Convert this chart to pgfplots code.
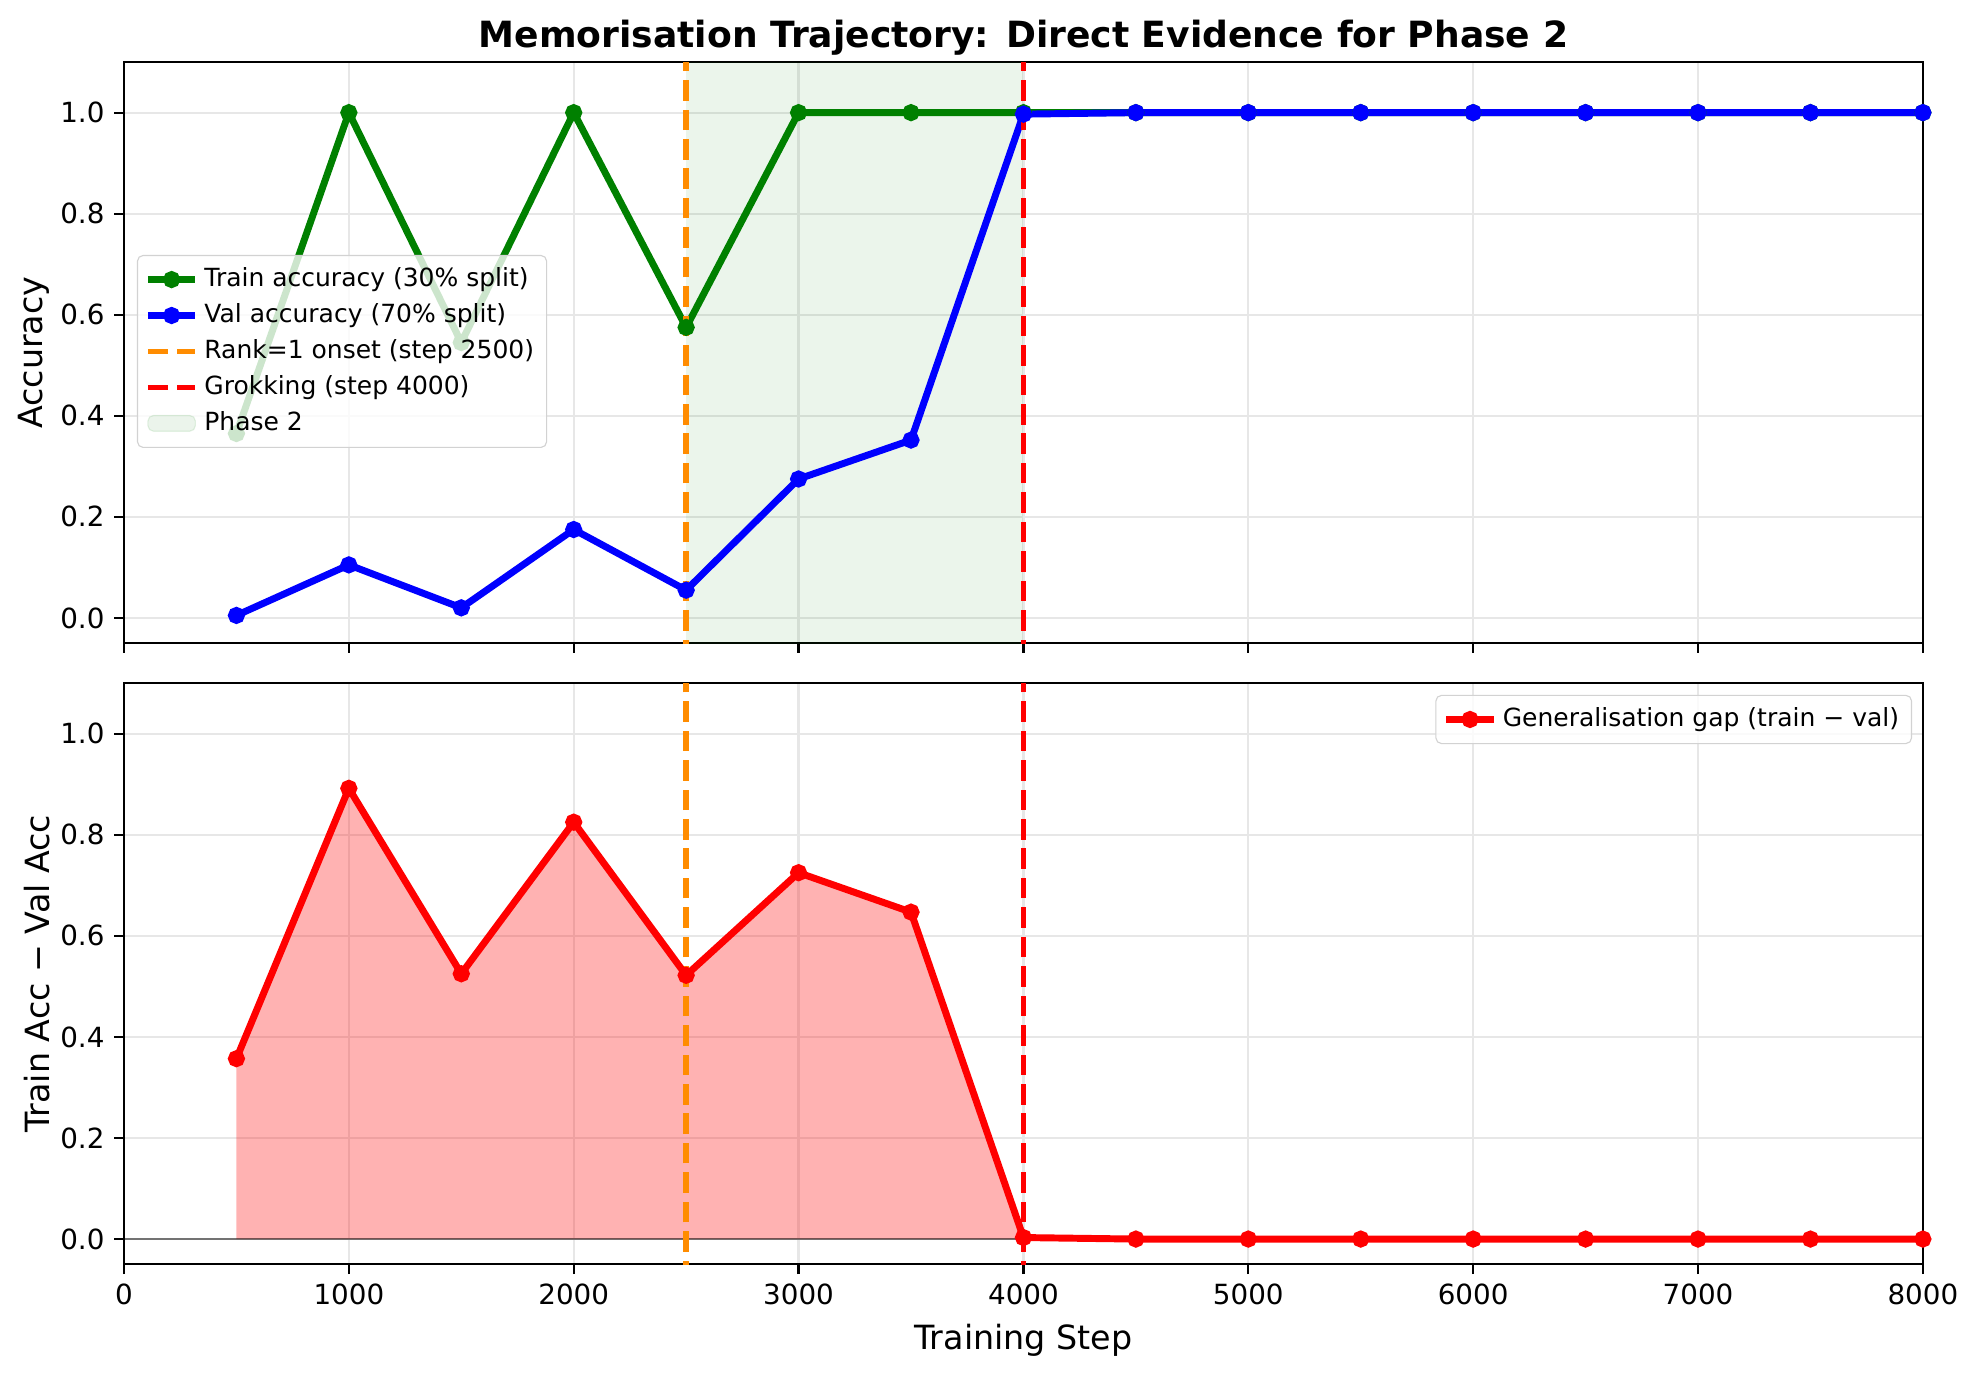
\documentclass[border=0pt]{standalone}
\usepackage{fontspec}
\setmainfont{DejaVu Sans}
\usepackage{pgfplots}
\pgfplotsset{compat=1.18}

\definecolor{mplgreen}{rgb}{0,0.5,0}
\definecolor{mplorange}{rgb}{1,0.549,0}
\definecolor{gridgray}{RGB}{231,231,231}
\definecolor{legframe}{RGB}{210,210,210}

\pgfplotsset{
  panel/.style={
    scale only axis,
    width=647.6pt, height=209.2pt,
    xmin=0, xmax=8000, ymin=-0.05, ymax=1.1,
    xtick={0,1000,...,8000},
    ytick={0,0.2,...,1.0},
    tick pos=left, tick align=outside,
    major tick length=3.5pt,
    every tick/.style={black, line width=0.8pt},
    axis line style={line width=0.8pt},
    grid=major,
    major grid style={gridgray, line width=0.8pt},
    ticklabel style={font=\fontsize{10}{12}\selectfont},
    /pgf/number format/assume math mode=true,
    /pgf/number format/1000 sep={},
    yticklabel style={/pgf/number format/fixed, /pgf/number format/fixed zerofill, /pgf/number format/precision=1},
    label style={font=\fontsize{12}{14}\selectfont},
    ylabel shift=-3pt,
    legend style={font=\fontsize{9}{11}\selectfont, draw=legframe, fill=white, fill opacity=0.8, text opacity=1, rounded corners=2pt, inner sep=2.5pt, row sep=0.6pt},
    legend cell align=left,
  },
  mline/.style={line width=2.5pt, mark=*, mark size=1.8pt},
  vline/.style={line width=2pt, dash pattern=on 7.4pt off 3.2pt},
}

\pgfplotstableread{
step train val gap
500 0.365 0.005 0.357
1000 1.000 0.105 0.892
1500 0.545 0.020 0.525
2000 1.000 0.175 0.825
2500 0.575 0.055 0.522
3000 1.000 0.275 0.725
3500 1.000 0.352 0.647
4000 1.000 0.997 0.003
4500 1.000 1.000 0.000
5000 1.000 1.000 0.000
5500 1.000 1.000 0.000
6000 1.000 1.000 0.000
6500 1.000 1.000 0.000
7000 1.000 1.000 0.000
7500 1.000 1.000 0.000
8000 1.000 1.000 0.000
}\acc

\begin{document}
\begin{tikzpicture}
\path[use as bounding box] (-44.64pt,-263.4pt) rectangle (667.8pt,231.56pt);

% top panel
\begin{axis}[panel,
  at={(0,0)}, anchor=south west,
  xticklabels={},
  ylabel={Accuracy},
  title={Memorisation Trajectory: Direct Evidence for Phase 2},
  title style={font=\fontsize{13}{15}\bfseries, yshift=-7pt},
  legend style={at={(rel axis cs:0.0072,0.336)}, anchor=south west},
]
\addplot[draw=none, fill=mplgreen, fill opacity=0.08, forget plot]
  coordinates {(2500,-0.2) (2500,1.3) (4000,1.3) (4000,-0.2)} -- cycle;
\addplot[mline, mplgreen] table[x=step, y=train] {\acc};
\addlegendentry{Train accuracy (30\% split)}
\addplot[mline, blue] table[x=step, y=val] {\acc};
\addlegendentry{Val accuracy (70\% split)}
\addplot[vline, mplorange] coordinates {(2500,-0.2) (2500,1.3)};
\addlegendentry{Rank=1 onset (step 2500)}
\addplot[vline, red] coordinates {(4000,-0.2) (4000,1.3)};
\addlegendentry{Grokking (step 4000)}
\addlegendimage{area legend, fill=mplgreen, fill opacity=0.08, draw=mplgreen, draw opacity=0.1}
\addlegendentry{Phase 2}
\end{axis}

% bottom panel
\begin{axis}[panel,
  at={(0,-14.4pt)}, anchor=north west,
  xlabel={Training Step},
  ylabel={Train Acc − Val Acc},
  legend style={at={(rel axis cs:0.994,0.98)}, anchor=north east},
]
\addplot[draw=none, fill=red, fill opacity=0.3, forget plot]
  coordinates {(500,0.357) (1000,0.892) (1500,0.525) (2000,0.825) (2500,0.522)
    (3000,0.725) (3500,0.647) (4000,0.003) (4500,0) (8000,0) (500,0)} -- cycle;
\addplot[black, opacity=0.5, line width=0.8pt, forget plot] coordinates {(0,0) (8000,0)};
\addplot[vline, mplorange, forget plot] coordinates {(2500,-0.2) (2500,1.3)};
\addplot[vline, red, forget plot] coordinates {(4000,-0.2) (4000,1.3)};
\addplot[mline, red] table[x=step, y=gap] {\acc};
\addlegendentry{Generalisation gap (train − val)}
\end{axis}
\end{tikzpicture}
\end{document}
